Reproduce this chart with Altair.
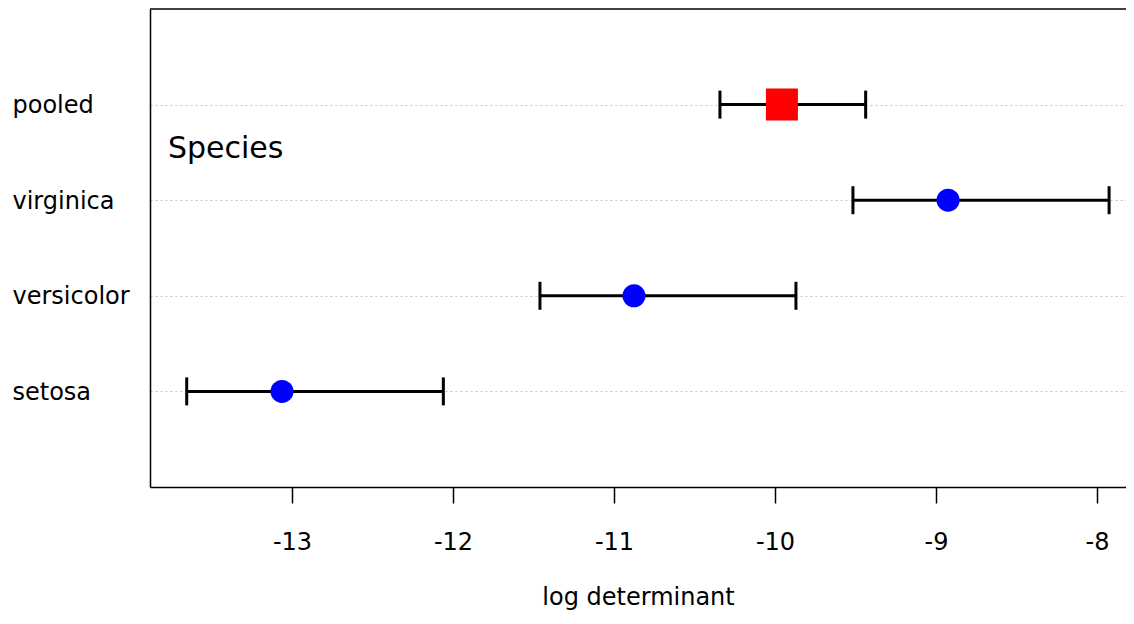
import altair as alt
import pandas as pd

groups = ["pooled", "virginica", "versicolor", "setosa"]
logdet = [-9.957, -8.925, -10.876, -13.062]
lower = [-10.342, -9.516, -11.46, -13.654]
upper = [-9.437, -7.925, -9.87, -12.06]
kind = ["pooled", "species", "species", "species"]
x_ticks = [-13, -12, -11, -10, -9, -8]
annotation = ["Species"]

df = pd.DataFrame({"group": groups, "logdet": logdet, "lower": lower,
                   "upper": upper, "kind": kind})

W = 976
H = 478
FONT = "DejaVu Sans"

xscale = alt.Scale(domain=[-13.882, -7.82], nice=False, zero=False)
yscale = alt.Scale(type="point", domain=groups, padding=1)

xaxis = alt.Axis(values=x_ticks, title="log determinant", grid=False,
                 labelExpr="'' + datum.value",
                 domainColor="black", domainWidth=1.5,
                 tickColor="black", tickWidth=1.5, tickSize=16,
                 labelFont=FONT, labelFontSize=24, labelColor="black",
                 labelBaseline="alphabetic", labelPadding=46,
                 titleFont=FONT, titleFontSize=24, titleColor="black",
                 titleFontWeight="normal", titleBaseline="alphabetic",
                 titleY=117)
yaxis = alt.Axis(title=None, ticks=False, tickSize=0,
                 domainColor="black", domainWidth=1.5,
                 grid=True, gridDash=[2, 3], gridColor="#c4c4c4", gridWidth=1,
                 labelFont=FONT, labelFontSize=24, labelColor="black",
                 labelAlign="left", labelBaseline="middle", labelPadding=138,
                 labelOffset=1)

base = alt.Chart(df)
y_enc = alt.Y("group:N", scale=yscale, sort=groups, axis=yaxis)

bars = base.mark_rule(color="black", strokeWidth=3).encode(
    x=alt.X("lower:Q", scale=xscale, axis=xaxis),
    x2="upper:Q",
    y=y_enc,
)
cap_lo = base.mark_tick(color="black", size=28, thickness=3, opacity=1).encode(
    x=alt.X("lower:Q", scale=xscale), y=alt.Y("group:N", scale=yscale, sort=groups))
cap_hi = base.mark_tick(color="black", size=28, thickness=3, opacity=1).encode(
    x=alt.X("upper:Q", scale=xscale), y=alt.Y("group:N", scale=yscale, sort=groups))

points = base.mark_point(filled=True, opacity=1, strokeWidth=0).encode(
    x=alt.X("logdet:Q", scale=xscale),
    y=alt.Y("group:N", scale=yscale, sort=groups),
    shape=alt.Shape("kind:N", scale=alt.Scale(domain=["pooled", "species"], range=["square", "circle"]), legend=None),
    color=alt.Color("kind:N", scale=alt.Scale(domain=["pooled", "species"], range=["#ff0000", "#0000ff"]), legend=None),
    size=alt.Size("kind:N", scale=alt.Scale(domain=["pooled", "species"], range=[1024, 531]), legend=None),
)

label = alt.Chart(pd.DataFrame({"t": annotation})).mark_text(
    align="left", baseline="alphabetic", font=FONT, fontSize=30, color="black"
).encode(x=alt.value(18), y=alt.value(149), text="t:N")

topline = alt.Chart(pd.DataFrame({"t": annotation})).mark_rule(
    color="black", strokeWidth=1.5
).encode(x=alt.value(0), x2=alt.value(W), y=alt.value(0))

chart = alt.layer(bars, cap_lo, cap_hi, points, label, topline).properties(
    width=W, height=H,
    autosize=alt.AutoSizeParams(type="none"),
    padding={"left": 142, "top": 1, "right": 0, "bottom": 123},
    background="white",
).configure_view(stroke=None)

chart.save("out.html", embed_options={"renderer": "svg", "actions": False})
